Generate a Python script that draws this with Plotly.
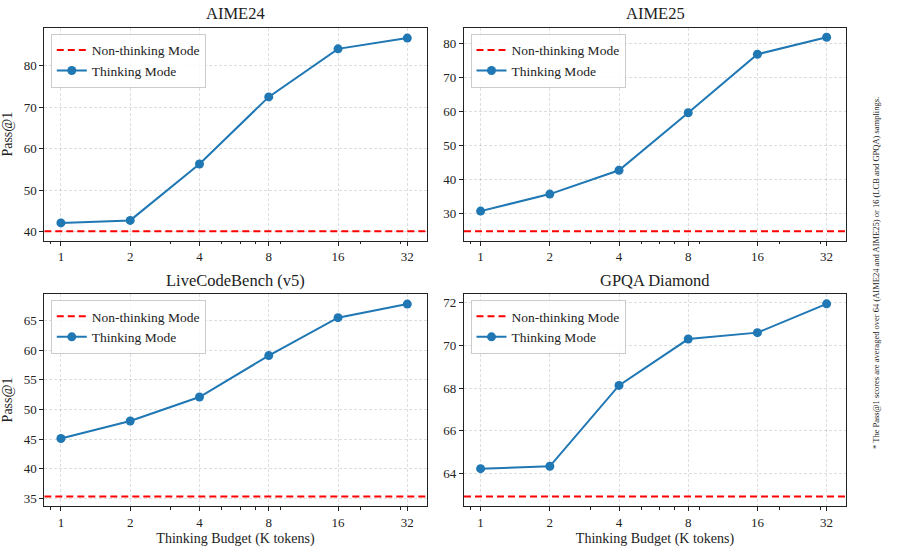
import math
import plotly.graph_objects as go

# ---- data ----
budgets = [1, 2, 4, 8, 16, 32]
budget_labels = ["1", "2", "4", "8", "16", "32"]

titles = ["AIME24", "AIME25", "LiveCodeBench (v5)", "GPQA Diamond"]

aime24_thinking = [42.1, 42.7, 56.3, 72.5, 84.1, 86.7]
aime25_thinking = [30.7, 35.7, 42.7, 59.6, 76.8, 81.8]
lcb_thinking = [45.1, 48.05, 52.1, 59.1, 65.5, 67.8]
gpqa_thinking = [64.23, 64.34, 68.13, 70.30, 70.60, 71.95]

aime24_nonthinking = 40.1
aime25_nonthinking = 24.8
lcb_nonthinking = 35.3
gpqa_nonthinking = 62.92

y_ticks = [
    [40, 50, 60, 70, 80],
    [30, 40, 50, 60, 70, 80],
    [35, 40, 45, 50, 55, 60, 65],
    [64, 66, 68, 70, 72],
]
y_ranges = [[37.8, 89.2], [22.0, 84.6], [33.7, 69.5], [62.48, 72.41]]

minor_ticks = [0.9, 3, 5, 6, 7, 9, 20, 30]

footnote = "* The Pass@1 scores are averaged over 64 (AIME24 and AIME25) or 16 (LCB and GPQA) samplings."

# ---- layout constants ----
W, H = 899, 556
FONT = "Liberation Serif"
X_LOG2_RANGE = (-0.24, 5.28)
x_lo, x_hi = 2 ** X_LOG2_RANGE[0], 2 ** X_LOG2_RANGE[1]
x_range_log10 = [math.log10(x_lo), math.log10(x_hi)]

# pixel boxes of each axes: (left, right, top, bottom)
boxes = [
    (44.3, 426.7, 27.7, 240.7),
    (464.0, 846.0, 27.7, 240.7),
    (44.3, 426.7, 294.0, 506.0),
    (464.0, 846.0, 294.0, 506.0),
]

thinking = [aime24_thinking, aime25_thinking, lcb_thinking, gpqa_thinking]
nonthinking = [aime24_nonthinking, aime25_nonthinking, lcb_nonthinking, gpqa_nonthinking]

fig = go.Figure()
layout = dict(
    width=W, height=H,
    margin=dict(l=0, r=0, t=0, b=0, autoexpand=False),
    paper_bgcolor="white", plot_bgcolor="white",
    font=dict(family=FONT, size=12, color="#222"),
    showlegend=True,
)
annotations = []

for i in range(4):
    n = "" if i == 0 else str(i + 1)
    xa, ya = "x" + n, "y" + n
    leg = "legend" if i == 0 else "legend" + str(i + 1)
    l, r, t, b = boxes[i]
    fig.add_trace(go.Scatter(
        x=[x_lo, x_hi], y=[nonthinking[i]] * 2, mode="lines",
        line=dict(color="red", width=2, dash="7px,4px"),
        name="Non-thinking Mode", xaxis=xa, yaxis=ya, legend=leg,
        hoverinfo="skip",
    ))
    fig.add_trace(go.Scatter(
        x=budgets, y=thinking[i], mode="lines+markers",
        line=dict(color="#1f77b4", width=2),
        marker=dict(color="#1f77b4", size=9),
        name="Thinking Mode", xaxis=xa, yaxis=ya, legend=leg,
    ))
    xdom = [l / W, r / W]
    ydom = [1 - b / H, 1 - t / H]
    axis_common = dict(
        automargin=False,
        showline=True, linecolor="#222", linewidth=1.1, mirror=True,
        ticks="outside", ticklen=4, tickcolor="#222", tickwidth=1,
        showgrid=True, gridcolor="rgba(0,0,0,0.13)", griddash="3px,2px", gridwidth=0.8,
        zeroline=False, tickfont=dict(family=FONT, size=13, color="#222"),
    )
    layout["xaxis" + n] = dict(
        axis_common, type="log", domain=xdom, range=x_range_log10,
        anchor=ya, tickmode="array", tickvals=budgets, ticktext=budget_labels,
        minor=dict(tickmode="array", tickvals=minor_ticks, ticks="outside",
                   ticklen=2.5, tickcolor="#222", showgrid=False),
        title=dict(text="Thinking Budget (K tokens)" if i >= 2 else "",
                   font=dict(family=FONT, size=14, color="#222"), standoff=4),
    )
    layout["yaxis" + n] = dict(
        axis_common, domain=ydom, range=y_ranges[i], anchor=xa,
        tickmode="array", tickvals=y_ticks[i],
        title=dict(text="Pass@1" if i % 2 == 0 else "",
                   font=dict(family=FONT, size=14, color="#222"), standoff=8),
    )
    layout[leg] = dict(
        x=(l + 6.5) / W, y=1 - (t + 6.0) / H, xanchor="left", yanchor="top",
        bgcolor="rgba(255,255,255,0.85)", bordercolor="#cccccc", borderwidth=1,
        font=dict(family=FONT, size=13.5, color="#222"),
        tracegroupgap=0, itemwidth=30,
    )
    annotations.append(dict(
        text=titles[i], xref="paper", yref="paper",
        x=(l + r) / 2 / W, y=1 - (t - 14) / H, xanchor="center", yanchor="middle",
        showarrow=False, font=dict(family=FONT, size=16.5, color="#222"),
    ))

annotations.append(dict(
    text=footnote, xref="paper", yref="paper", x=876 / W, y=1 - 273 / H,
    xanchor="center", yanchor="middle", textangle=-90, showarrow=False,
    font=dict(family=FONT, size=8.5, color="#222"),
))
layout["annotations"] = annotations
fig.update_layout(**layout)
fig.write_html(
    "out.html",
    config={"displayModeBar": False},
    post_script="document.body.style.margin='0px';document.body.style.overflow='hidden';",
)
